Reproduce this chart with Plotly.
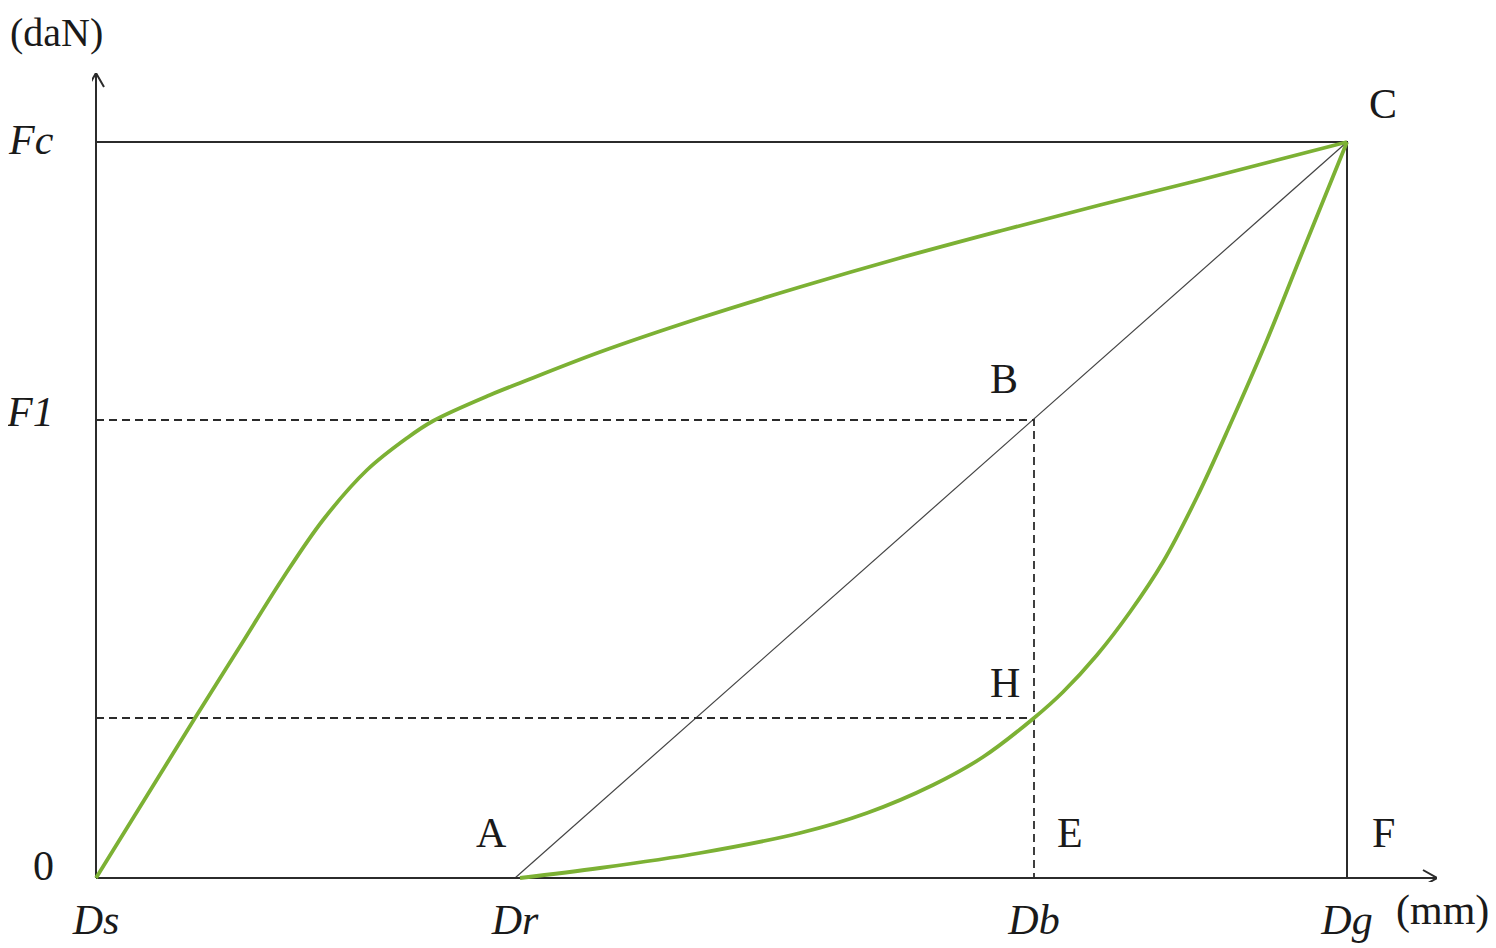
import plotly.graph_objects as go

# key abscissas (mm) and forces (daN), in drawing units
Ds, Dr, Db, Dg = 0, 419, 938, 1251
F0, FH, F1, Fc = 0, 160, 458, 736

x_tick_labels = ["Ds", "Dr", "Db", "Dg"]
y_tick_labels = ["0", "F1", "Fc"]

# loading curve Ds -> C
load_x = [0, 99, 143, 187, 227, 271, 311, 337, 394, 424, 504, 604, 704, 804, 904, 1004, 1104, 1251]
load_y = [0, 160, 230, 300, 358, 408, 440, 457, 483, 495, 526, 560, 591, 620, 647, 673, 698, 736]

# unloading curve C -> Dr
unload_x = [424, 504, 604, 704, 771, 837, 887, 938, 967, 1001, 1034, 1067, 1101, 1134, 1171, 1204, 1251]
unload_y = [0, 10, 25, 45, 65, 93, 121, 160, 186, 223, 266, 316, 381, 453, 538, 620, 736]

# end of the axis arrows
x_end, y_end = 1341, 805

green = "#7CB134"
ink = "#2b2b2b"
serif = "Liberation Serif"
fsize = 42

# the page adds an 8 px body margin, so the figure is 8 px smaller each way
fig_w, fig_h = 1488, 940
m_l, m_r, m_t, m_b = 84, 59, 65, 66
plot_h = fig_h - m_t - m_b

fig = go.Figure()

# A -> C secant
fig.add_trace(go.Scatter(x=[Dr, Dg], y=[F0, Fc], mode="lines",
                         line=dict(color="#444444", width=1.2)))

# dashed helper lines
fig.add_trace(go.Scatter(x=[Ds, Db, Db], y=[F1, F1, F0], mode="lines",
                         line=dict(color=ink, width=1.8, dash="8px,5px")))
fig.add_trace(go.Scatter(x=[Ds, Db], y=[FH, FH], mode="lines",
                         line=dict(color=ink, width=1.8, dash="8px,5px")))

# frame at Fc and Dg
fig.add_trace(go.Scatter(x=[Ds, Dg, Dg], y=[Fc, Fc, F0], mode="lines",
                         line=dict(color=ink, width=2)))

# axes with open arrow heads
fig.add_trace(go.Scatter(x=[Ds, x_end, None, x_end - 14, x_end, x_end - 14],
                         y=[F0, F0, None, 8, F0, -8], mode="lines",
                         line=dict(color=ink, width=2)))
fig.add_trace(go.Scatter(x=[Ds, Ds, None, -8, Ds, 8],
                         y=[F0, y_end, None, y_end - 14, y_end, y_end - 14], mode="lines",
                         line=dict(color=ink, width=2)))

# green curves
fig.add_trace(go.Scatter(x=load_x, y=load_y, mode="lines",
                         line=dict(color=green, width=3.8, shape="spline", smoothing=1.0)))
fig.add_trace(go.Scatter(x=unload_x, y=unload_y, mode="lines",
                         line=dict(color=green, width=3.8, shape="spline", smoothing=1.0)))

letter_font = dict(family=serif, size=fsize, color="#1a1a1a")
points = [
    ("C", Dg, Fc, 36, 38),
    ("B", Db, F1, -30, 41),
    ("H", Db, FH, -29, 35),
    ("A", Dr, F0, -24, 45),
    ("E", Db, F0, 36, 45),
    ("F", Dg, F0, 36, 45),
]
for txt, px, py, dx, dy in points:
    fig.add_annotation(x=px, y=py, text=txt, showarrow=False, font=letter_font,
                       xshift=dx, yshift=dy)

# force labels left of the vertical axis
for txt, fy, dy in zip(y_tick_labels, [F0, F1, Fc], [12, 8, 2]):
    label = txt if txt == "0" else "<i>%s</i>" % txt
    fig.add_annotation(x=Ds, y=fy, text=label, showarrow=False, font=letter_font,
                       xanchor="right", xshift=-40, yshift=dy)

# units: (daN) hangs from the top edge of the figure
fig.add_annotation(x=Ds, xref="x", y=1 + m_t / plot_h, yref="paper", yanchor="top",
                   text="(daN)", showarrow=False,
                   font=dict(family=serif, size=40, color="#1a1a1a"), xshift=-40)
fig.add_annotation(x=x_end, y=F0, text="(mm)", showarrow=False, font=letter_font,
                   xshift=5, yshift=-32)

fig.update_layout(
    width=fig_w, height=fig_h,
    margin=dict(l=m_l, r=m_r, t=m_t, b=m_b, autoexpand=False),
    plot_bgcolor="white", paper_bgcolor="white",
    showlegend=False,
    xaxis=dict(range=[-4, x_end], showgrid=False, zeroline=False, showline=False,
               automargin=False,
               tickvals=[Ds, Dr, Db, Dg],
               ticktext=["<i>%s</i>" % t for t in x_tick_labels],
               tickfont=dict(family=serif, size=fsize, color="#1a1a1a"),
               ticks="", ticklabelstandoff=9),
    yaxis=dict(range=[-4, y_end], showgrid=False, zeroline=False, showline=False,
               automargin=False, showticklabels=False),
)

fig.write_html("out.html")
